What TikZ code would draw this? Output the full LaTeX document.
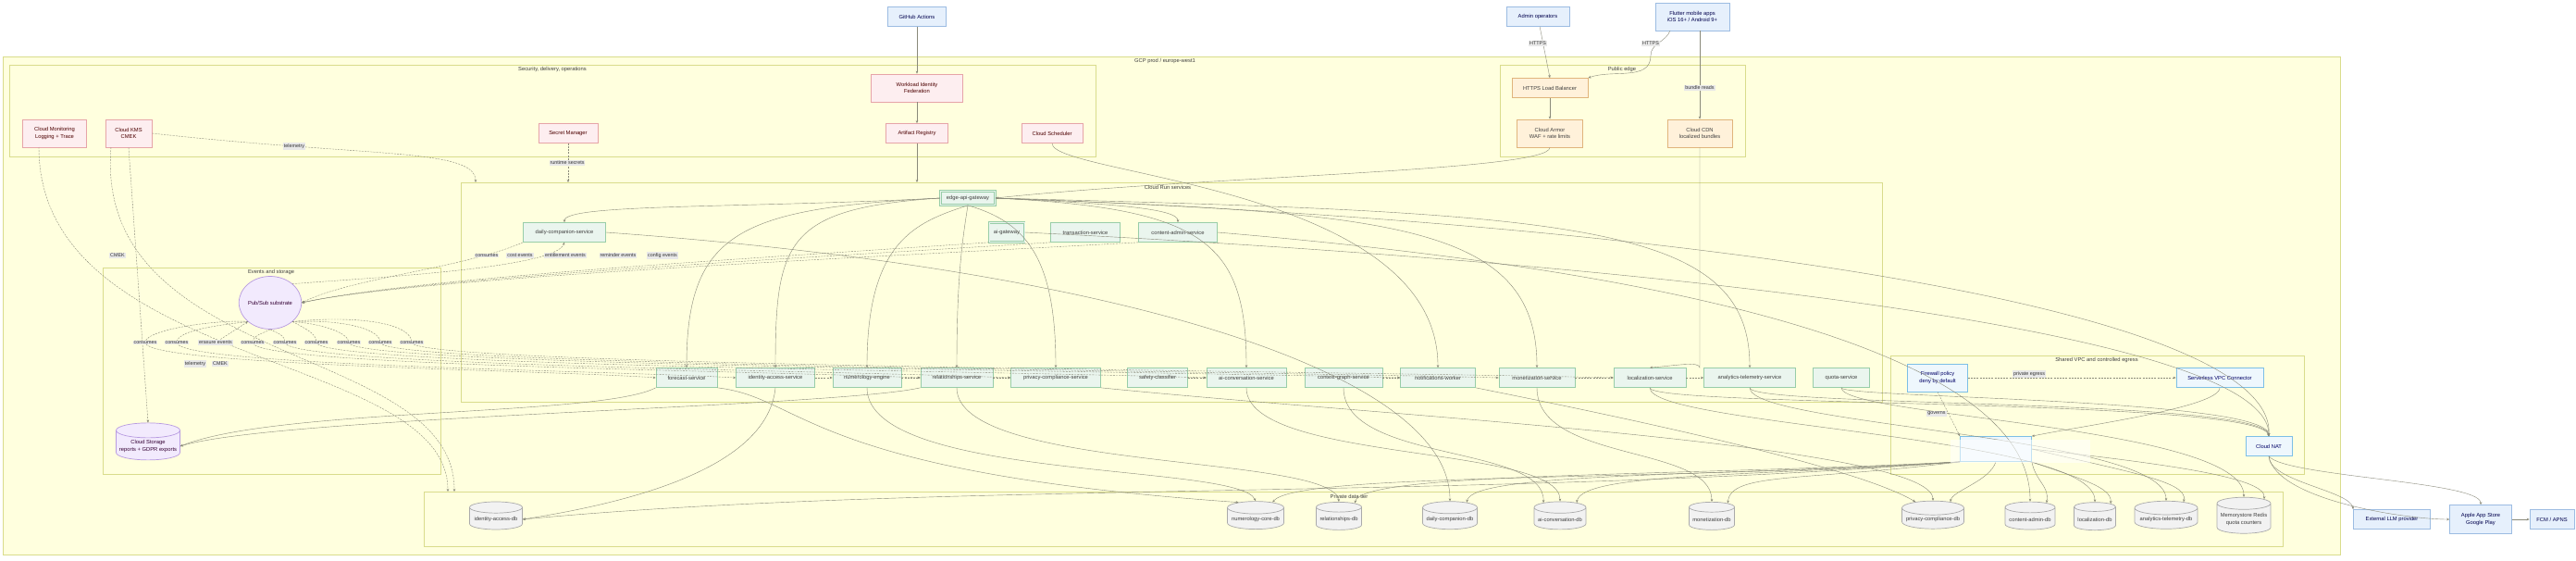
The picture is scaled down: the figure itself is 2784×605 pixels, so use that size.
\documentclass[tikz,border=0pt]{standalone}
\usepackage{fontspec}
\setmainfont{Liberation Sans}
\usetikzlibrary{shapes.geometric,arrows.meta}
\definecolor{grpf}{HTML}{FFFFDE}\definecolor{grpd}{HTML}{D9DC8C}
\definecolor{extf}{HTML}{E6F0FC}\definecolor{extd}{HTML}{9CBCE2}
\definecolor{secf}{HTML}{FDEEF0}\definecolor{secd}{HTML}{E6A4A8}
\definecolor{edgf}{HTML}{FFF1DA}\definecolor{edgd}{HTML}{E0B47C}
\definecolor{svcf}{HTML}{EAF5EE}\definecolor{svcd}{HTML}{98CDA8}
\definecolor{dbf}{HTML}{F2F2F2}\definecolor{dbd}{HTML}{AAAAAA}
\definecolor{pf}{HTML}{F2EAFD}\definecolor{pd}{HTML}{B79AE0}
\definecolor{vf}{HTML}{EEF7FD}\definecolor{vd}{HTML}{7CBFE6}
\definecolor{ln}{HTML}{8A8A7A}
\definecolor{lf}{HTML}{E8E8E8}
\tikzset{
 x=1pt,y=-1pt,
 every node/.style={font=\fontsize{5.8}{7.5}\selectfont, align=center, inner sep=1pt},
 grp/.style={draw=grpd, fill=grpf, line width=0.8pt},
 gl/.style={font=\fontsize{5.8}{7}\selectfont, text=black!75},
 box/.style={rectangle, draw, line width=0.7pt, minimum height=21pt},
 ext/.style={box, fill=extf, draw=extd, text=black!70!blue},
 sec/.style={box, fill=secf, draw=secd, text=black!70!red},
 edg/.style={box, fill=edgf, draw=edgd, text=black!75},
 svc/.style={box, fill=svcf, draw=svcd, text=black!75},
 vpc/.style={box, fill=vf, draw=vd, text=black!60!blue},
 db/.style={cylinder, shape border rotate=90, aspect=0.25, draw=dbd, fill=dbf, line width=0.7pt, minimum height=30pt, text=black!75},
 pur/.style={draw=pd, fill=pf, line width=0.7pt, text=black!60!violet},
 e/.style={draw=ln, line width=0.4pt, -{Stealth[length=3pt,width=2.5pt]}},
 d/.style={e, dash pattern=on 2pt off 1.2pt},
 lbl/.style={fill=lf, text=black!80, inner sep=1pt, font=\fontsize{5.4}{6}\selectfont},
 dbl/.style={double=svcf, double distance=1pt},
}
\begin{document}
\begin{tikzpicture}
\useasboundingbox (0,0) rectangle (2784,605);
\fill[white] (0,0) rectangle (2784,605);
% groups
\draw[grp] (3,61) rectangle (2529,599);
\node[gl] at (1259,66) {GCP prod / europe-west1};
\draw[grp] (10,70) rectangle (1184,169);
\node[gl] at (597,75) {Security, delivery, operations};
\draw[grp] (1621,70) rectangle (1886,169);
\node[gl] at (1753,75) {Public edge};
\draw[grp] (498,197) rectangle (2034,434);
\node[gl] at (1262,202) {Cloud Run services};
\draw[grp] (111,289) rectangle (476,512);
\node[gl] at (293,294) {Events and storage};
\draw[grp] (2043,384) rectangle (2490,512);
\node[gl] at (2266,389) {Shared VPC and controlled egress};
\draw[grp] (458,531) rectangle (2467,590);
\node[gl] at (1458,536) {Private data tier};

% external
\node[ext, minimum width=63pt] (gh) at (991,18) {GitHub Actions};
\node[ext, minimum width=68pt] (adm) at (1662,18) {Admin operators};
\node[ext, minimum width=80pt, minimum height=30pt] (app) at (1829,18) {Flutter mobile apps\\iOS 16+ / Android 9+};
\node[ext, minimum width=83pt] (llm) at (2585,561) {External LLM provider};
\node[ext, minimum width=67pt, minimum height=31pt] (store) at (2681,561) {Apple App Store\\Google Play};
\node[ext, minimum width=48pt] (fcm) at (2758,561) {FCM / APNS};

% security
\node[sec, minimum width=99pt, minimum height=30pt] (wif) at (991,95) {Workload Identity\\Federation};
\node[sec, minimum width=69pt, minimum height=30pt] (mon) at (59,144) {Cloud Monitoring\\Logging + Trace};
\node[sec, minimum width=50pt, minimum height=30pt] (kms) at (139,144) {Cloud KMS\\CMEK};
\node[sec, minimum width=64pt] (sm) at (614,144) {Secret Manager};
\node[sec, minimum width=67pt] (ar) at (991,144) {Artifact Registry};
\node[sec, minimum width=66pt] (sch) at (1137,144) {Cloud Scheduler};

% edge
\node[edg, minimum width=82pt] (lb) at (1675,95) {HTTPS Load Balancer};
\node[edg, minimum width=71pt, minimum height=30pt] (arm) at (1675,144) {Cloud Armor\\WAF + rate limits};
\node[edg, minimum width=70pt, minimum height=30pt] (cdn) at (1837,144) {Cloud CDN\\localized bundles};

% services
\node[svc, dbl, minimum width=59pt, minimum height=15pt] (gw) at (1046,214) {edge-api-gateway};
\node[svc, minimum width=89pt] (dcs) at (610,251) {daily-companion-service};
\node[svc, dbl, minimum width=38pt] (aig) at (1088,251) {ai-gateway};
\node[svc, minimum width=75pt] (trs) at (1173,251) {transaction-service};
\node[svc, minimum width=85pt] (cas) at (1273,251) {content-admin-service};
\node[svc, minimum width=66pt] (fcs) at (742,408) {forecast-service};
\node[svc, minimum width=85pt] (ias) at (838,408) {identity-access-service};
\node[svc, minimum width=74pt] (nme) at (937,408) {numerology-engine};
\node[svc, minimum width=78pt] (rls) at (1034,408) {relationships-service};
\node[svc, minimum width=97pt] (pcs) at (1141,408) {privacy-compliance-service};
\node[svc, minimum width=65pt] (sfc) at (1251,408) {safety-classifier};
\node[svc, minimum width=86pt] (acs) at (1347,408) {ai-conversation-service};
\node[svc, minimum width=84pt] (cgs) at (1452,408) {context-graph-service};
\node[svc, minimum width=81pt] (nfw) at (1554,408) {notifications-worker};
\node[svc, minimum width=82pt] (mns) at (1661,408) {monetization-service};
\node[svc, minimum width=78pt] (lcs) at (1783,408) {localization-service};
\node[svc, minimum width=99pt] (ats) at (1891,408) {analytics-telemetry-service};
\node[svc, minimum width=61pt] (qts) at (1990,408) {quota-service};

% events
\node[ellipse, pur, minimum width=55pt, minimum height=57pt, inner sep=0pt] (ps) at (292,327) {Pub/Sub substrate};
\node[db, pur, minimum width=69pt, minimum height=40pt] (cs) at (160,482) {Cloud Storage\\reports + GDPR exports};

% vpc
\node[vpc, minimum width=65pt, minimum height=30pt] (fw) at (2094,408) {Firewall policy\\deny by default};
\node[vpc, minimum width=94pt] (svpc) at (2399,408) {Serverless VPC Connector};
\node[vpc, minimum width=77pt, minimum height=27pt] (psc) at (2157,485) {};
\node[vpc, minimum width=50pt] (nat) at (2452,482) {Cloud NAT};

% dbs
\node[db, minimum width=57pt] (iadb) at (536,561) {identity-access-db};
\node[db, minimum width=61pt] (ncdb) at (1357,561) {numerology-core-db};
\node[db, minimum width=49pt] (rldb) at (1447,561) {relationships-db};
\node[db, minimum width=59pt] (dcdb) at (1567,561) {daily-companion-db};
\node[db, minimum width=56pt] (acdb) at (1686,561) {ai-conversation-db};
\node[db, minimum width=49pt] (mndb) at (1850,561) {monetization-db};
\node[db, minimum width=67pt] (pcdb) at (2089,561) {privacy-compliance-db};
\node[db, minimum width=54pt] (cadb) at (2194,561) {content-admin-db};
\node[db, minimum width=45pt] (lcdb) at (2264,561) {localization-db};
\node[db, minimum width=68pt] (atdb) at (2341,561) {analytics-telemetry-db};
\node[db, minimum width=58pt, minimum height=39pt] (rds) at (2425,561) {Memorystore Redis\\quota counters};

\coordinate (crtop) at (991,197);
\coordinate (crsec) at (614,197);
\coordinate (crtel) at (514,197);
\coordinate (pdt1) at (484,531);
\coordinate (pdt2) at (491,531);

% top edges
\draw[e] (gh) -- (wif);
\draw[e] (wif) -- (ar);
\draw[e] (ar) -- (crtop);
\draw[e] (adm) -- (lb.north);
\node[lbl] at (1662,47) {HTTPS};
\coordinate (appa) at (1805,33);
\coordinate (appm) at (1784,60);
\draw[e] (appa) to[out=-110,in=90] (appm) to[out=-90,in=20] (lb.north east);
\node[lbl] at (1784,47) {HTTPS};
\coordinate (appb) at (1837,33);
\draw[e] (appb) -- (cdn.north);
\node[lbl] at (1837,95) {bundle reads};
\draw[e] (lb) -- (arm);
\draw[e] (arm.south) .. controls (1675,185) and (1300,190) .. (gw.east);
\draw[d] (sm) -- (crsec);
\node[lbl] at (613,176) {runtime secrets};
\draw[d] (kms.east) .. controls (400,170) and (514,160) .. (crtel);
\node[lbl] at (318,158) {telemetry};
\draw[e] (sch.south) .. controls (1137,190) and (1554,200) .. (nfw.north);
\draw[d] (kms.south) -- (cs.north);
\node[lbl] at (127,276) {CMEK};
\coordinate (mona) at (42,159);
\coordinate (kmsa) at (120,159);
\draw[d] (mona) .. controls (42,400) and (484,380) .. (pdt1);
\draw[d] (kmsa) .. controls (100,400) and (491,370) .. (pdt2);
\node[lbl] at (211,393) {telemetry};
\node[lbl] at (238,393) {CMEK};

% gateway to services
\draw[e] (gw.west) .. controls (800,225) and (610,220) .. (dcs.north);
\draw[e] (gw.east) .. controls (1200,220) and (1273,225) .. (cas.north);
\draw[e] (gw.west) .. controls (800,225) and (742,250) .. (fcs.north);
\draw[e] (gw.west) .. controls (850,225) and (838,260) .. (ias.north);
\draw[e] (gw.south) .. controls (990,240) and (937,260) .. (nme.north);
\draw[e] (gw.south) .. controls (1040,260) and (1034,300) .. (rls.north);
\draw[e] (gw.south) .. controls (1110,240) and (1141,280) .. (pcs.north);
\draw[e] (gw.east) .. controls (1300,225) and (1347,260) .. (acs.north);
\draw[e] (gw.east) .. controls (1500,230) and (1661,240) .. (mns.north);
\draw[e] (gw.east) .. controls (1700,230) and (1891,240) .. (ats.north);
\draw[e] (cdn.south) -- (cdn.south |- lcs.north) .. controls (1837,390) and (1810,395) .. (lcs.north);

% services <-> pubsub
\draw[d] (dcs.south west) .. controls (500,290) and (380,300) .. (ps.east);
\draw[d] (aig.south west) .. controls (800,280) and (450,300) .. (ps.east);
\draw[d] (trs.south west) .. controls (850,280) and (450,300) .. (ps.east);
\draw[d] (cas.south west) .. controls (900,280) and (450,300) .. (ps.east);
\draw[d] (ps.north east) .. controls (400,300) and (600,290) .. (dcs.south);
\node[lbl] at (526,276) {consumes};
\node[lbl] at (562,276) {cost events};
\node[lbl] at (611,276) {entitlement events};
\node[lbl] at (668,276) {reminder events};
\node[lbl] at (716,276) {config events};

\coordinate (c1) at (157,370);\coordinate (c2) at (191,370);\coordinate (c3) at (233,370);
\coordinate (c4) at (273,370);\coordinate (c5) at (308,370);\coordinate (c6) at (342,370);
\coordinate (c7) at (377,370);\coordinate (c8) at (411,370);\coordinate (c9) at (445,370);
\draw[d] (ps.south west) .. controls (240,345) and (157,355) .. (c1) .. controls (157,395) and (600,400) .. (fcs.west);
\draw[d] (ps.south west) .. controls (250,350) and (191,355) .. (c2) .. controls (191,395) and (650,400) .. (ias.west);
\draw[d] (c3) -- (ps.south west);
\draw[d] (ps.south) .. controls (285,360) and (273,362) .. (c4) .. controls (273,395) and (800,400) .. (rls.west);
\draw[d] (ps.south) .. controls (300,360) and (308,362) .. (c5) .. controls (308,395) and (900,400) .. (pcs.west);
\draw[d] (ps.south east) .. controls (330,355) and (342,360) .. (c6) .. controls (342,395) and (1050,400) .. (acs.west);
\draw[d] (ps.south east) .. controls (350,350) and (377,360) .. (c7) .. controls (377,395) and (1200,400) .. (nfw.west);
\draw[d] (ps.south east) .. controls (370,345) and (411,355) .. (c8) .. controls (411,395) and (1300,400) .. (mns.west);
\draw[d] (ps.south east) .. controls (390,340) and (445,350) .. (c9) .. controls (445,395) and (1400,400) .. (lcs.west);
\node[lbl] at (c1) {consumes};
\node[lbl] at (c2) {consumes};
\node[lbl] at (c3) {erasure events};
\node[lbl] at (c4) {consumes};
\node[lbl] at (c5) {consumes};
\node[lbl] at (c6) {consumes};
\node[lbl] at (c7) {consumes};
\node[lbl] at (c8) {consumes};
\node[lbl] at (c9) {consumes};

% service chain
\draw[d] (ias) -- (nme);
\draw[d] (nme) -- (rls);
\draw[d] (rls) -- (pcs);
\draw[d] (sfc) -- (acs);
\draw[d] (cgs) -- (nfw);
\draw[d] (mns) -- (lcs);
\draw[d] (lcs) -- (ats);

% to storage
\draw[e] (fcs.south west) .. controls (650,450) and (300,440) .. (cs.east);
\draw[e] (rls.south west) .. controls (900,440) and (300,450) .. (cs.east);

% services -> dbs
\draw[e] (ias.south) .. controls (830,500) and (700,540) .. (iadb.east);
\draw[e] (nme.south) .. controls (937,520) and (1340,500) .. (ncdb.north);
\draw[e] (fcs.south east) .. controls (870,430) and (870,510) .. (ncdb.north west);
\draw[e] (rls.south) .. controls (1034,510) and (1440,490) .. (rldb.north);
\draw[e] (dcs.east) .. controls (1200,290) and (1567,400) .. (dcdb.north);
\draw[e] (acs.south) .. controls (1347,500) and (1686,480) .. (acdb.north);
\draw[e] (cgs.south) .. controls (1452,500) and (1670,480) .. (acdb.north west);
\draw[e] (mns.south) .. controls (1661,500) and (1850,480) .. (mndb.north);
\draw[e] (pcs.south east) .. controls (1500,450) and (2089,480) .. (pcdb.north);
\draw[e] (nfw.south east) .. controls (1700,440) and (2000,500) .. (pcdb.north west);
\draw[e] (cas.east) .. controls (1900,300) and (2194,400) .. (cadb.north);
\draw[e] (lcs.south) .. controls (1783,460) and (2264,470) .. (lcdb.north);
\draw[e] (ats.south) .. controls (1891,460) and (2341,470) .. (atdb.north);
\draw[e] (qts.south) .. controls (1990,450) and (2425,460) .. (rds.north);

% private connect -> dbs
\draw[e] (psc.south west) .. controls (1600,540) and (1000,520) .. (iadb.east);
\draw[e] (psc.south west) .. controls (1800,520) and (1400,510) .. (ncdb.north east);
\draw[e] (psc.south west) .. controls (1800,515) and (1470,510) .. (rldb.north east);
\draw[e] (psc.south west) .. controls (1850,515) and (1590,510) .. (dcdb.north east);
\draw[e] (psc.south west) .. controls (1900,515) and (1710,510) .. (acdb.north east);
\draw[e] (psc.south west) .. controls (1950,520) and (1870,510) .. (mndb.north east);
\draw[e] (psc.south) .. controls (2150,520) and (2110,530) .. (pcdb.north east);
\draw[e] (psc.south east) .. controls (2200,520) and (2215,525) .. (cadb.north east);
\draw[e] (psc.south east) .. controls (2240,515) and (2283,525) .. (lcdb.north east);
\draw[e] (psc.east) .. controls (2300,510) and (2365,520) .. (atdb.north east);
\draw[e] (psc.east) .. controls (2330,500) and (2450,515) .. (rds.north east);

% vpc
\draw[d] (fw) -- (svpc);
\node[lbl] at (2193,404) {private egress};
\draw[d] (fw.south) -- (psc.north west);
\node[lbl] at (2093,447) {governs};
\draw[e] (svpc.south) .. controls (2399,440) and (2250,460) .. (psc.north east);
\draw[e] (lcs.south) .. controls (1783,440) and (2440,430) .. (nat.north);
\draw[e] (ats.south) .. controls (1891,440) and (2445,430) .. (nat.north);
\draw[e] (qts.south) .. controls (1990,430) and (2450,430) .. (nat.north);
\draw[e] (aig.east) .. controls (1700,280) and (2452,350) .. (nat.north);
\draw[e] (gw.east) .. controls (1800,240) and (2460,330) .. (nat.north);
\draw[e] (nat.south) .. controls (2452,520) and (2540,530) .. (llm.north west);
\draw[e] (nat.south) .. controls (2460,540) and (2600,561) .. (store.west);
\draw[e] (nat.south) .. controls (2470,515) and (2681,520) .. (store.north);
\draw[e] (store) -- (fcm);
\fill[white, opacity=0.55] (2108,475) rectangle (2259,500);
\end{tikzpicture}
\end{document}
